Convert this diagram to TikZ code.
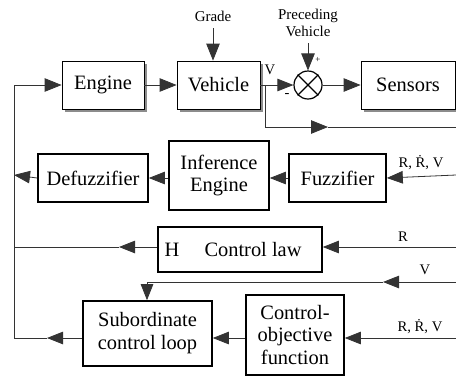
\documentclass[tikz,border=0pt]{standalone}
\usepackage{fontspec}
\setmainfont{Liberation Serif}
\usetikzlibrary{arrows.meta,shadows}
\begin{document}
\begin{tikzpicture}[x=1bp,y=-1bp,
  conn/.style={line width=0.8bp,draw=black!80},
  arr/.style={-{Triangle[length=16bp,width=12.5bp]}},
  arrU/.style={-{Triangle[length=17bp,width=13.5bp]}},
  upbox/.style={draw,line width=0.8bp,fill=white,inner sep=0pt,font=\fontsize{20.5}{23}\selectfont,
     general shadow={fill=black!45,shadow xshift=3bp,shadow yshift=-3bp}},
  lowbox/.style={draw,line width=1.6bp,fill=white,inner sep=0pt,align=center,font=\fontsize{20.5}{23}\selectfont},
  small/.style={font=\fontsize{15}{17}\selectfont,inner sep=0pt,align=center},
  sig/.style={font=\fontsize{14.7}{16}\selectfont,inner sep=0pt}]
\useasboundingbox (0,0) rectangle (456,376);
% upper row
\node[upbox,minimum width=82bp,minimum height=48bp] (eng) at (103,85) {Engine};
\node[upbox,minimum width=83bp,minimum height=48bp] (veh) at (218.5,85) {Vehicle};
\node[upbox,minimum width=94bp,minimum height=48bp] (sen) at (408,85) {Sensors};
\node[draw,circle,line width=1.2bp,minimum size=28bp,inner sep=0pt] (sum) at (308,85) {};
\draw[line width=1.2bp] (sum.north west) -- (sum.south east) (sum.north east) -- (sum.south west);
\node[small] (grade) at (213,16) {Grade};
\node[small] (prec) at (308,23) {Preceding\\Vehicle};
\coordinate (gradetop) at (213,28);
\coordinate (prectop) at (308,43);
\node[font=\fontsize{9}{10}\selectfont,inner sep=0pt] (plus) at (318,60) {+};
\node[sig] (minus) at (287,95) {-};
\node[sig] (vlab) at (270,70) {V};
% middle
\node[lowbox,minimum width=110bp,minimum height=48bp] (def) at (93,178) {Defuzzifier};
\node[lowbox,minimum width=100bp,minimum height=69bp] (inf) at (219,175.5) {Inference\\Engine};
\node[lowbox,minimum width=97bp,minimum height=48bp] (fuz) at (337.5,178) {Fuzzifier};
\node[lowbox,minimum width=164bp,minimum height=45bp] (cl) at (240,249.5) {};
\node[font=\fontsize{20.5}{23}\selectfont,inner sep=0pt] (hlab) at (172,250) {H};
\node[font=\fontsize{20.5}{23}\selectfont,inner sep=0pt] (cllab) at (253,250) {Control law};
\node[lowbox,minimum width=129bp,minimum height=65bp] (sub) at (147.5,333.5) {Subordinate\\control loop};
\node[lowbox,minimum width=98bp,minimum height=80bp] (cof) at (295,335) {Control-\\objective\\function};
% labels right
\node[sig] (l1) at (421,163) {R, \.{R}, V};
\node[sig] (l2) at (403,237) {R};
\node[sig] (l3) at (425,270) {V};
\node[sig] (l4) at (420,327) {R, \.{R}, V};
% coordinates
\coordinate (bt) at (14,85);
\coordinate (b2) at (14,175);
\coordinate (b3) at (14,247);
\coordinate (bb) at (14,338);
\coordinate (br1) at (265,85);
\coordinate (br2) at (265,127);
\coordinate (br3) at (328,127);
\coordinate (br4) at (456,127);
\coordinate (in1) at (456,175);
\coordinate (in2) at (456,247);
\coordinate (in3) at (456,282);
\coordinate (v1) at (383,282);
\coordinate (v2) at (147,282);
\coordinate (in4) at (456,338);
\coordinate (m3) at (119,247);
\coordinate (m4) at (47,338);
% connectors
\draw[conn] (bb) -- (bt);
\draw[conn,arrU] (bt) -- (eng.west);
\draw[conn,arrU] (eng.east) -- (veh.west);
\draw[conn,arrU] (gradetop) -- (veh.north -| gradetop);
\draw[conn,arr] (veh.east) -- (sum.west);
\draw[conn,arrU] (prectop) -- (sum.north);
\draw[conn,arrU] (sum.east) -- (sen.west);
\draw[conn,arrU] (br1) -- (br2) -- (br3);
\draw[conn] (br3) -- (br4);
\draw[conn,arr] (in1) -- (fuz.east);
\draw[conn,arr] (fuz.west) -- (inf.east |- fuz.west);
\draw[conn,arr] (inf.west |- def.east) -- (def.east);
\draw[conn,arr] (def.west) -- (b2);
\draw[conn,arr] (in2) -- (cl.east |- in2);
\draw[conn,arr] (cl.west |- in2) -- (m3);
\draw[conn] (m3) -- (b3);
\draw[conn,arr] (in3) -- (v1);
\draw[conn,arr] (v1) -- (v2) -- (sub.north -| v2);
\draw[conn,arr] (in4) -- (cof.east |- in4);
\draw[conn,arr] (cof.west |- in4) -- (sub.east |- in4);
\draw[conn,arr] (sub.west |- in4) -- (m4);
\draw[conn] (m4) -- (bb);
\end{tikzpicture}
\end{document}
